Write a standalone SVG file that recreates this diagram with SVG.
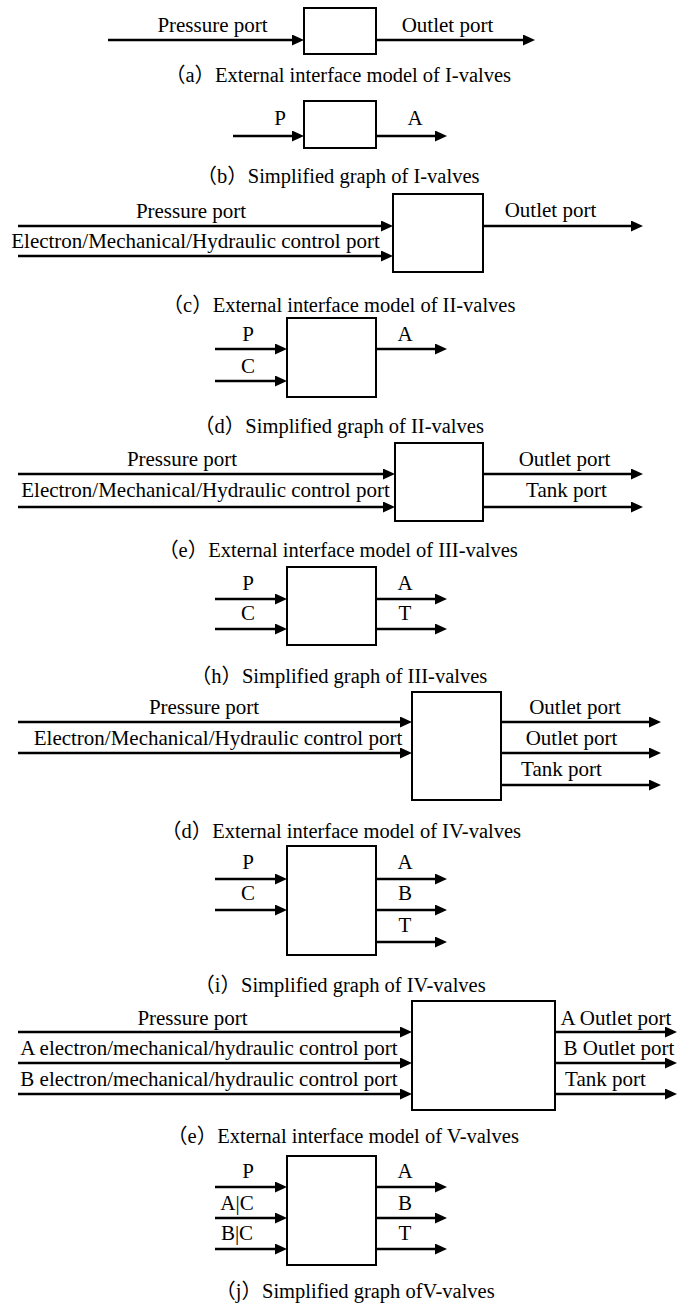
<svg xmlns="http://www.w3.org/2000/svg" width="686" height="1309" viewBox="0 0 686 1309">
<defs>
<marker id="ah" markerWidth="14" markerHeight="12" refX="6" refY="5.5" orient="auto" markerUnits="userSpaceOnUse"><path d="M0,0 L12,5.5 L0,11 z" fill="#000"/></marker>
<style>
.box{fill:#fff;stroke:#000;stroke-width:2}
.c{stroke:#000;stroke-width:2.3;fill:none;marker-end:url(#ah)}
text{font-family:"Liberation Serif","Noto Sans CJK SC",serif;fill:#000}
.l{font-size:21px;text-anchor:middle}
.cap{font-size:20.5px;text-anchor:middle}
</style>
</defs>
<rect width="686" height="1309" fill="#fff"/>
<g id="nodes">
<g id="nodeA"><rect class="box" x="304" y="8" width="72" height="46"/></g>
<g id="nodeB"><rect class="box" x="304" y="101" width="72" height="47"/></g>
<g id="nodeC"><rect class="box" x="393" y="194" width="90" height="78"/></g>
<g id="nodeD"><rect class="box" x="287" y="318" width="89" height="79"/></g>
<g id="nodeE"><rect class="box" x="395" y="443" width="88" height="78"/></g>
<g id="nodeH"><rect class="box" x="287" y="567" width="89" height="78"/></g>
<g id="nodeIV"><rect class="box" x="412" y="692" width="89" height="108"/></g>
<g id="nodeI"><rect class="box" x="287" y="846" width="89" height="109"/></g>
<g id="nodeV"><rect class="box" x="412" y="1001" width="143" height="109"/></g>
<g id="nodeJ"><rect class="box" x="287" y="1156" width="89" height="109"/></g>
</g>
<g id="connectors">
<path class="c" d="M108,40H298"/><path class="c" d="M376,40H529"/>
<path class="c" d="M233,136H298"/><path class="c" d="M376,136H441"/>
<path class="c" d="M18,226H387"/><path class="c" d="M18,256H387"/><path class="c" d="M483,226H637"/>
<path class="c" d="M215,349H281"/><path class="c" d="M215,381H281"/><path class="c" d="M376,349H441"/>
<path class="c" d="M18,474H389"/><path class="c" d="M18,507H389"/><path class="c" d="M483,474H637"/><path class="c" d="M483,507H637"/>
<path class="c" d="M215,599H281"/><path class="c" d="M215,629H281"/><path class="c" d="M376,599H441"/><path class="c" d="M376,629H441"/>
<path class="c" d="M18,722H406"/><path class="c" d="M18,753H406"/><path class="c" d="M501,722H655"/><path class="c" d="M501,753H655"/><path class="c" d="M501,785H655"/>
<path class="c" d="M215,879H281"/><path class="c" d="M215,910H281"/><path class="c" d="M376,879H441"/><path class="c" d="M376,910H441"/><path class="c" d="M376,942H441"/>
<path class="c" d="M18,1032H406"/><path class="c" d="M18,1063H406"/><path class="c" d="M18,1094H406"/><path class="c" d="M555,1032H671"/><path class="c" d="M555,1063H671"/><path class="c" d="M555,1094H671"/>
<path class="c" d="M215,1187H281"/><path class="c" d="M215,1218H281"/><path class="c" d="M215,1249H281"/><path class="c" d="M376,1187H441"/><path class="c" d="M376,1218H441"/><path class="c" d="M376,1249H441"/>
</g>
<g id="labels">
<text class="l" x="212.5" y="32">Pressure port</text><text class="l" x="447.5" y="32">Outlet port</text>
<text class="l" x="280" y="125">P</text><text class="l" x="415" y="125">A</text>
<text class="l" x="191" y="218">Pressure port</text><text class="l" x="195.5" y="248">Electron/Mechanical/Hydraulic control port</text><text class="l" x="550.5" y="217">Outlet port</text>
<text class="l" x="248" y="341">P</text><text class="l" x="248" y="373">C</text><text class="l" x="405" y="341">A</text>
<text class="l" x="182" y="466">Pressure port</text><text class="l" x="205.5" y="497">Electron/Mechanical/Hydraulic control port</text><text class="l" x="564.5" y="466">Outlet port</text><text class="l" x="566.5" y="497">Tank port</text>
<text class="l" x="248" y="590">P</text><text class="l" x="248" y="620">C</text><text class="l" x="405" y="590">A</text><text class="l" x="405" y="620">T</text>
<text class="l" x="204" y="714">Pressure port</text><text class="l" x="218" y="745">Electron/Mechanical/Hydraulic control port</text><text class="l" x="575" y="714">Outlet port</text><text class="l" x="571.5" y="745">Outlet port</text><text class="l" x="561.5" y="776">Tank port</text>
<text class="l" x="248" y="869">P</text><text class="l" x="248" y="900">C</text><text class="l" x="405" y="869">A</text><text class="l" x="405" y="900">B</text><text class="l" x="405" y="932">T</text>
<text class="l" x="192.5" y="1025">Pressure port</text><text class="l" x="209" y="1055">A electron/mechanical/hydraulic control port</text><text class="l" x="209" y="1086">B electron/mechanical/hydraulic control port</text><text class="l" x="616" y="1025">A Outlet port</text><text class="l" x="619" y="1055">B Outlet port</text><text class="l" x="605.5" y="1086">Tank port</text>
<text class="l" x="248" y="1178">P</text><text class="l" x="237" y="1210">A|C</text><text class="l" x="237" y="1240">B|C</text><text class="l" x="405" y="1178">A</text><text class="l" x="405" y="1210">B</text><text class="l" x="405" y="1240">T</text>
</g>
<g id="captions">
<text class="cap" x="338" y="82">（a）External interface model of I-valves</text>
<text class="cap" x="338" y="183">（b）Simplified graph of I-valves</text>
<text class="cap" x="339" y="312">（c）External interface model of II-valves</text>
<text class="cap" x="339" y="433">（d）Simplified graph of II-valves</text>
<text class="cap" x="338" y="557">（e）External interface model of III-valves</text>
<text class="cap" x="339" y="683">（h）Simplified graph of III-valves</text>
<text class="cap" x="341" y="838">（d）External interface model of IV-valves</text>
<text class="cap" x="340" y="992">（i）Simplified graph of IV-valves</text>
<text class="cap" x="343" y="1143">（e）External interface model of V-valves</text>
<text class="cap" x="355" y="1298">（j）Simplified graph ofV-valves</text>
</g>
</svg>
